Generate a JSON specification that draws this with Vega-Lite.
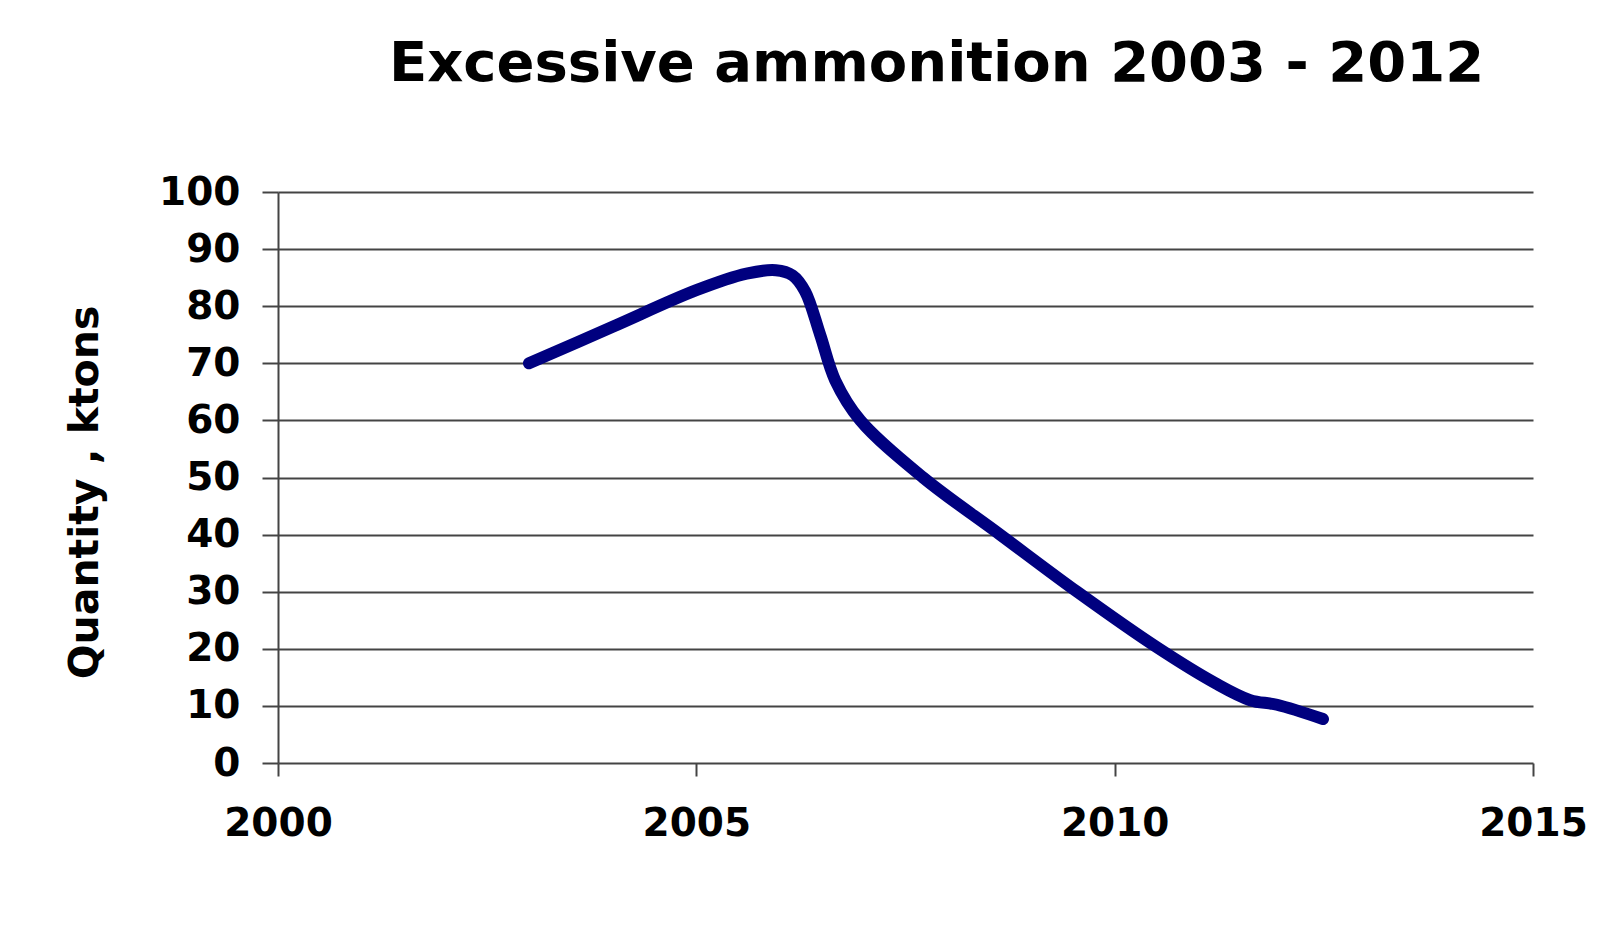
{
  "$schema": "https://vega.github.io/schema/vega-lite/v6.json",
  "width": 1255,
  "height": 571,
  "autosize": {"type": "none"},
  "padding": {"left": 278, "top": 192, "right": 91, "bottom": 187},
  "background": "white",
  "title": {
    "text": "Excessive ammonition  2003 - 2012",
    "font": "DejaVu Sans",
    "fontSize": 56,
    "fontWeight": "bold",
    "color": "black",
    "anchor": "middle",
    "frame": "group",
    "dx": 31,
    "offset": 80
  },
  "config": {
    "view": {"stroke": null},
    "font": "DejaVu Sans"
  },
  "data": {
    "values": [
      {"year": 2003.0, "ktons": 70.0},
      {"year": 2004.0, "ktons": 76.4},
      {"year": 2005.0, "ktons": 82.8},
      {"year": 2005.6, "ktons": 85.7},
      {"year": 2005.95, "ktons": 86.3},
      {"year": 2006.15, "ktons": 85.4},
      {"year": 2006.3, "ktons": 82.6},
      {"year": 2006.48, "ktons": 75.0},
      {"year": 2006.66, "ktons": 67.0},
      {"year": 2006.96, "ktons": 60.0},
      {"year": 2007.71, "ktons": 50.0},
      {"year": 2008.63, "ktons": 40.0},
      {"year": 2009.55, "ktons": 30.0},
      {"year": 2010.5, "ktons": 20.3},
      {"year": 2011.2, "ktons": 14.0},
      {"year": 2011.62, "ktons": 11.0},
      {"year": 2011.94, "ktons": 10.2},
      {"year": 2012.49, "ktons": 7.7}
    ]
  },
  "mark": {
    "type": "line",
    "interpolate": "catmull-rom",
    "color": "#00007f",
    "strokeWidth": 12,
    "strokeCap": "round",
    "strokeJoin": "round"
  },
  "encoding": {
    "x": {
      "field": "year",
      "type": "quantitative",
      "scale": {"domain": [2000, 2015], "nice": false, "zero": false},
      "axis": {
        "title": null,
        "values": [2000, 2005, 2010, 2015],
        "format": "d",
        "grid": false,
        "domain": false,
        "ticks": true,
        "tickSize": 13,
        "tickWidth": 2,
        "tickColor": "#444444",
        "labelFont": "DejaVu Sans",
        "labelFontSize": 39,
        "labelFontWeight": "bold",
        "labelColor": "black",
        "labelPadding": 28,
        "labelFlush": false,
        "labelOverlap": false
      }
    },
    "y": {
      "field": "ktons",
      "type": "quantitative",
      "scale": {"domain": [0, 100], "nice": false},
      "axis": {
        "title": "Quantity , ktons",
        "titleFont": "DejaVu Sans",
        "titleFontSize": 41,
        "titleFontWeight": "bold",
        "titleColor": "black",
        "titlePadding": 52,
        "titleY": 300,
        "values": [0, 10, 20, 30, 40, 50, 60, 70, 80, 90, 100],
        "grid": true,
        "gridColor": "#444444",
        "gridWidth": 2,
        "gridOpacity": 1,
        "domain": true,
        "domainColor": "#444444",
        "domainWidth": 2,
        "ticks": true,
        "tickSize": 16,
        "tickWidth": 2,
        "tickColor": "#444444",
        "labelFont": "DejaVu Sans",
        "labelFontSize": 39,
        "labelFontWeight": "bold",
        "labelColor": "black",
        "labelPadding": 22
      }
    }
  }
}
